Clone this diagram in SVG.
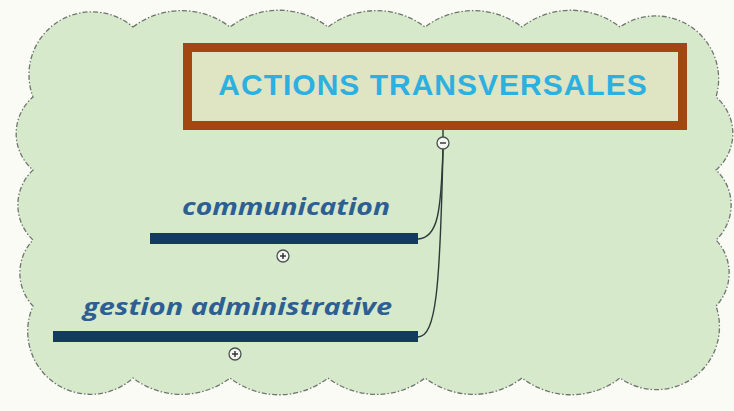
<svg xmlns="http://www.w3.org/2000/svg" width="734" height="411" viewBox="0 0 734 411">
<style>
.cloud{fill:#d6e9cb;stroke:#6f7670;stroke-width:1.3;stroke-dasharray:5 2 1.5 2}
.title{font-family:"Liberation Sans",Arial,sans-serif;font-weight:bold;font-size:30px;fill:#2cb0e2;letter-spacing:1px}
.topic{font-family:"Open Sans","DejaVu Sans",sans-serif;font-weight:bold;font-style:italic;font-size:23px;fill:#2e5f93}
.bar{fill:#133b5f}
.conn{fill:none;stroke:#2c3a38;stroke-width:1.4}
.tog{fill:#f4f6f2;stroke:#4a5250;stroke-width:1.3}
.sign{stroke:#2a2f2e;stroke-width:1.4}
</style>
<rect width="734" height="411" fill="#fbfbf6"/>
<path class="cloud" d="M133,27 A80,80 0 0 1 230,27 A80,80 0 0 1 328,27 A80,80 0 0 1 425,27 A80,80 0 0 1 522,27 A80,80 0 0 1 620,27 A63,63 0 0 1 716,97 A48,48 0 0 1 716,170 A48,48 0 0 1 716,240 A48,48 0 0 1 716,306 A63,63 0 0 1 620,378 A80,80 0 0 1 522,378 A80,80 0 0 1 425,378 A80,80 0 0 1 328,378 A80,80 0 0 1 230,378 A80,80 0 0 1 133,378 A63,63 0 0 1 33,306 A48,48 0 0 1 33,240 A48,48 0 0 1 33,170 A48,48 0 0 1 33,97 A63,63 0 0 1 133,27 Z"/>
<g id="connectors">
<line class="conn" x1="443" y1="130" x2="443" y2="137"/>
<path class="conn" d="M443,149 C441,212 438,238 418,239"/>
<path class="conn" d="M443,149 C440,290 436,336 418,337"/>
</g>
<g id="root">
<rect x="187.5" y="47.5" width="495" height="78" fill="#dfe4c2" stroke="#a3460f" stroke-width="9"/>
<text class="title" x="433" y="95" text-anchor="middle">ACTIONS TRANSVERSALES</text>
<circle class="tog" cx="443" cy="143" r="6"/>
<line class="sign" x1="440" y1="143" x2="446" y2="143"/>
</g>
<g id="communication">
<text class="topic" x="390" y="215" text-anchor="end" textLength="208" lengthAdjust="spacingAndGlyphs">communication</text>
<rect class="bar" x="150" y="233" width="268" height="11"/>
<circle class="tog" cx="283" cy="256" r="6"/>
<line class="sign" x1="280" y1="256" x2="286" y2="256"/>
<line class="sign" x1="283" y1="253" x2="283" y2="259"/>
</g>
<g id="gestion">
<text class="topic" x="392" y="315" text-anchor="end" textLength="309" lengthAdjust="spacingAndGlyphs">gestion administrative</text>
<rect class="bar" x="53" y="331" width="365" height="11"/>
<circle class="tog" cx="235" cy="354" r="6"/>
<line class="sign" x1="232" y1="354" x2="238" y2="354"/>
<line class="sign" x1="235" y1="351" x2="235" y2="357"/>
</g>
</svg>
